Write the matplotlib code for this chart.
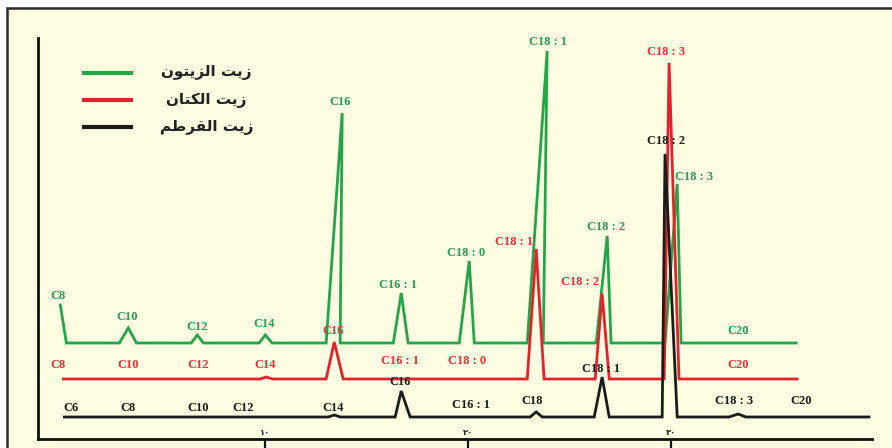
import matplotlib.pyplot as plt
from matplotlib.patches import Rectangle

# retention time axis (min), signal in arbitrary units
x_ticks = [10, 20, 30]
x_tick_labels = ["\u0661\u0660", "\u0662\u0660", "\u0663\u0660"]

# legend names (Arabic, pre-shaped for display)
names = [
    "\uFEE5\uFEEE\uFE98\uFEF3\uFEB0\uFEDF\uFE8D \uFE96\uFEF3\uFEAF",  # زيت الزيتون
    "\uFEE5\uFE8E\uFE98\uFEDC\uFEDF\uFE8D \uFE96\uFEF3\uFEAF",        # زيت الكتان
    "\uFEE2\uFEC3\uFEAE\uFED8\uFEDF\uFE8D \uFE96\uFEF3\uFEAF",        # زيت القرطم
]
colors = ["#23a64a", "#e4222b", "#1b1b1b"]
label_colors = ["#2a9e55", "#e2333c", "#1b1b1b"]

# olive oil
green_base = 96
green_span = (-0.10, 36.16)
green_apex = [-0.10, 3.25, 6.65, 10.00, 13.79, 16.70, 20.05, 23.89, 26.85, 30.30]
green_height = [38, 15, 8, 8, 230, 50, 82, 292, 107, 159]
green_left = [-0.10, 2.81, 6.35, 9.70, 13.00, 16.31, 19.56, 22.91, 26.31, 29.70]
green_right = [0.20, 3.65, 6.95, 10.34, 13.69, 17.04, 20.30, 23.70, 27.04, 30.49]
green_labels = ["C8", "C10", "C12", "C14", "C16", "C16 : 1", "C18 : 0", "C18 : 1", "C18 : 2", "C18 : 3", "C20"]
green_lx = [-0.20, 3.20, 6.65, 9.95, 13.69, 16.55, 19.90, 23.94, 26.80, 31.15, 33.30]
green_ly = [143, 122, 112, 115, 337, 154, 186, 397, 212, 262, 108]

# linseed oil
red_base = 60
red_span = (0.05, 36.21)
red_apex = [10.05, 13.40, 23.35, 26.60, 29.90]
red_height = [2, 37, 130, 85, 316]
red_left = [9.75, 13.00, 22.91, 26.26, 29.66]
red_right = [10.35, 13.84, 23.74, 26.95, 30.39]
red_labels = ["C8", "C10", "C12", "C14", "C16", "C16 : 1", "C18 : 0", "C18 : 1", "C18 : 2", "C18 : 3", "C20"]
red_lx = [-0.20, 3.25, 6.70, 10.00, 13.35, 16.65, 19.95, 22.27, 25.52, 29.75, 33.30]
red_ly = [74, 74, 74, 74, 108, 78, 78, 197, 157, 387, 74]

# safflower oil
black_base = 22
black_span = (0.10, 39.75)
black_apex = [13.40, 16.70, 23.35, 26.60, 29.70, 33.30]
black_height = [2, 26, 5, 40, 263, 3]
black_left = [13.10, 16.40, 23.05, 26.21, 29.56, 32.86]
black_right = [13.70, 17.14, 23.65, 26.95, 30.30, 33.69]
black_labels = ["C6", "C8", "C10", "C12", "C14", "C16", "C16 : 1", "C18", "C18 : 1", "C18 : 2", "C18 : 3", "C20"]
black_lx = [0.44, 3.25, 6.70, 8.90, 13.35, 16.65, 20.15, 23.15, 26.55, 29.75, 33.10, 36.40]
black_ly = [31, 31, 31, 31, 31, 57, 34, 38, 70, 298, 38, 38]


def trace(span, base, apex, height, left, right):
    xs, ys = [], []
    if span[0] < left[0]:
        xs.append(span[0])
        ys.append(base)
    for a, h, l, r in zip(apex, height, left, right):
        if l < a:
            xs.append(l)
            ys.append(base)
        xs += [a, r]
        ys += [base + h, base]
    xs.append(span[1])
    ys.append(base)
    return xs, ys


fig = plt.figure(figsize=(8.92, 4.48), dpi=100)
fig.patch.set_facecolor("white")
fig.patches.append(Rectangle((7 / 892, -0.2), 1.2, 1.2 - 8 / 448,
                             transform=fig.transFigure, facecolor="#fefce1",
                             edgecolor="#2b2b2b", linewidth=1.8, zorder=-10))

ax = fig.add_axes([38 / 892, 9 / 448, 834 / 892, 401 / 448])
ax.set_facecolor("none")
ax.set_xlim(-1.20, 39.90)
ax.set_ylim(0, 401)
for s in ["top", "right"]:
    ax.spines[s].set_visible(False)
for s in ["left", "bottom"]:
    ax.spines[s].set_linewidth(2.0)
    ax.spines[s].set_color("#111111")
ax.set_yticks([])
ax.set_xticks(x_ticks)
ax.set_xticklabels([])
ax.tick_params(axis="x", direction="out", length=8, width=1.6, color="#111111")

for t, lab in zip(x_ticks, x_tick_labels):
    ax.text(t, 7, lab, fontsize=6, ha="center", va="center",
            family=["DejaVu Sans"], fontweight="bold", color="#222222")

series = [
    (green_span, green_base, green_apex, green_height, green_left, green_right,
     green_labels, green_lx, green_ly),
    (red_span, red_base, red_apex, red_height, red_left, red_right,
     red_labels, red_lx, red_ly),
    (black_span, black_base, black_apex, black_height, black_left, black_right,
     black_labels, black_lx, black_ly),
]

for i, (span, base, apex, height, left, right, labs, lx, ly) in enumerate(series):
    xs, ys = trace(span, base, apex, height, left, right)
    ax.plot(xs, ys, color=colors[i], lw=2.0, solid_joinstyle="miter", zorder=3 + i)
    for lab, x, y in zip(labs, lx, ly):
        ax.text(x, y, lab, color=label_colors[i], fontsize=9, fontweight="bold",
                family="Liberation Serif", ha="center", va="center", zorder=6)

# legend
leg_y = [0.913, 0.845, 0.778]
for i in range(3):
    ax.plot([0.053, 0.114], [leg_y[i], leg_y[i]], color=colors[i], lw=3,
            transform=ax.transAxes, solid_capstyle="butt")
    ax.text(0.202, leg_y[i], names[i], transform=ax.transAxes, fontsize=11,
            fontweight="bold", family=["DejaVu Sans"], ha="center", va="center",
            color="#222222")

fig.savefig("out.png", dpi=100)
